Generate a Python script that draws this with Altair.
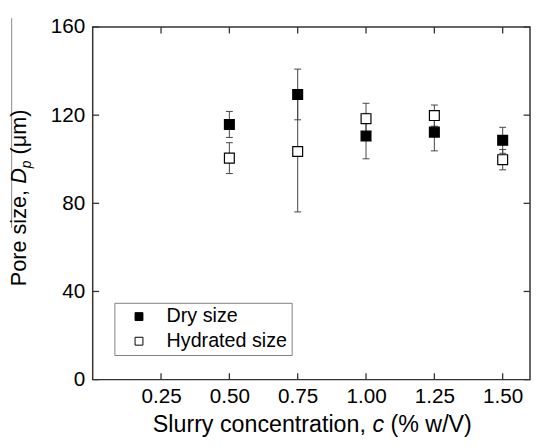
import altair as alt
import pandas as pd

# ---- data ----
conc = [0.50, 0.75, 1.00, 1.25, 1.50]
dry_size = [115.8, 129.4, 110.5, 112.3, 108.6]
dry_err = [5.9, 11.5, 10.3, 8.5, 5.9]
hyd_size = [100.5, 103.5, 118.4, 119.8, 99.8]
hyd_err = [7.0, 27.4, 7.0, 4.8, 4.6]
series_names = ["Dry size", "Hydrated size"]
x_ticks = [0.25, 0.50, 0.75, 1.00, 1.25, 1.50]
y_ticks = [0, 40, 80, 120, 160]
x_domain = [0, 1.6]
y_domain = [0, 160]
x_title = ["Slurry concentration, ", "c", " (% w/V)"]
y_title = ["Pore size, ", "D", "p", " (\u03bcm)"]

# ---- style ----
W, H = 444, 358
FONT = "Liberation Sans"
FRAME = "#333333"
BAR = "#444444"
TICK_LEN = 6.5

# Arial / Liberation Sans advance widths (em) for title layout
ADV = {'S': .667, 'l': .222, 'u': .556, 'r': .333, 'y': .5, ' ': .278, 'c': .5,
       'o': .556, 'n': .556, 'e': .556, 't': .278, 'a': .556, 'i': .222, ',': .278,
       '(': .333, '%': .889, 'w': .722, '/': .278, 'V': .667, ')': .333, 'P': .667,
       's': .5, 'z': .5, 'D': .722, 'p': .556, '\u03bc': .576, 'm': .833}


def tw(s, size):
    return sum(ADV.get(ch, .556) for ch in s) * size


def lead(s, size):
    return tw(" " * (len(s) - len(s.lstrip(" "))), size)


rows = []
for c, v, e in zip(conc, dry_size, dry_err):
    rows.append({"conc": c, "size": v, "lo": v - e, "hi": v + e, "series": series_names[0]})
for c, v, e in zip(conc, hyd_size, hyd_err):
    rows.append({"conc": c, "size": v, "lo": v - e, "hi": v + e, "series": series_names[1]})
df = pd.DataFrame(rows)
caps = pd.DataFrame(
    [{"conc": r["conc"], "cap": r["lo"]} for r in rows] + [{"conc": r["conc"], "cap": r["hi"]} for r in rows]
)
df_xt = pd.DataFrame({"v": x_ticks})
df_yt = pd.DataFrame({"v": y_ticks})
one = pd.DataFrame({"a": [0]})

xs = alt.Scale(domain=x_domain, nice=False, zero=False)
ys = alt.Scale(domain=y_domain, nice=False, zero=False)


def X(field):
    return alt.X(field, type="quantitative", scale=xs,
                 axis=alt.Axis(values=x_ticks, format=".2f", title=None, labelPadding=6))


def Y(field):
    return alt.Y(field, type="quantitative", scale=ys,
                 axis=alt.Axis(values=y_ticks, format="d", title=None, labelPadding=8))


bars = alt.Chart(df).mark_rule(color=BAR, strokeWidth=1).encode(
    x=X("conc"), y=Y("lo"), y2="hi")
cap_marks = alt.Chart(caps).mark_tick(orient="horizontal", size=7, thickness=1, color=BAR, opacity=1).encode(
    x=X("conc"), y=Y("cap"))

points = alt.Chart(df).mark_square(size=100, filled=True, stroke="black", strokeWidth=1.2, opacity=1).encode(
    x=X("conc"), y=Y("size"),
    fill=alt.Fill("series:N", scale=alt.Scale(domain=series_names, range=["black", "white"]),
                  legend=alt.Legend(orient="none", legendX=22, legendY=280, title=None,
                                    strokeColor="#808080", fillColor="white", padding=4,
                                    labelFontSize=20, labelFont=FONT, labelColor="black",
                                    symbolType="square", symbolSize=64, symbolStrokeColor="black",
                                    symbolStrokeWidth=1, symbolOffset=11, labelOffset=18,
                                    rowPadding=5, labelLimit=300)))

# inward ticks on all four sides
t_left = alt.Chart(df_yt).mark_rule(color=FRAME, strokeWidth=1.3).encode(
    y=Y("v"), x=alt.value(0), x2=alt.value(TICK_LEN))
t_right = alt.Chart(df_yt).mark_rule(color=FRAME, strokeWidth=1.3).encode(
    y=Y("v"), x=alt.value(W), x2=alt.value(W - TICK_LEN))
t_bottom = alt.Chart(df_xt).mark_rule(color=FRAME, strokeWidth=1.3).encode(
    x=X("v"), y=alt.value(H), y2=alt.value(H - TICK_LEN))
t_top = alt.Chart(df_xt).mark_rule(color=FRAME, strokeWidth=1.3).encode(
    x=X("v"), y=alt.value(0), y2=alt.value(TICK_LEN))

# ---- titles built from pieces (italic symbols) ----
title_layers = []
XF = 23.6
x_base = 411
x_total = sum(tw(p, XF) for p in x_title)
xpos = 223 - x_total / 2
for piece, style in zip(x_title, ["normal", "italic", "normal"]):
    title_layers.append(alt.Chart(one).mark_text(
        text=piece.strip(), font=FONT, fontSize=XF, fontStyle=style, align="left",
        baseline="alphabetic", color="black").encode(
        x=alt.value(xpos + lead(piece, XF)), y=alt.value(x_base)))
    xpos += tw(piece, XF)

YF = 22
SUB = 14
y_base = -67.5
sizes = [YF, YF, SUB, YF]
y_total = sum(tw(p, s) for p, s in zip(y_title, sizes))
ypos = 173.5 + y_total / 2
for piece, style, size, shift in zip(y_title, ["normal", "italic", "italic", "normal"],
                                     sizes, [0, 0, 5, 0]):
    title_layers.append(alt.Chart(one).mark_text(
        text=piece.strip(), font=FONT, fontSize=size, fontStyle=style, align="left",
        baseline="alphabetic", angle=270, color="black").encode(
        x=alt.value(y_base + shift), y=alt.value(ypos - lead(piece, size))))
    ypos -= tw(piece, size)

# faint scan line at the far left of the reference
scan = alt.Chart(one).mark_rule(color="#8a8a8a", strokeWidth=1).encode(
    x=alt.value(-82.3), y=alt.value(-9), y2=alt.value(204))

chart = alt.layer(
    bars, cap_marks, points, t_left, t_right, t_bottom, t_top, scan, *title_layers
).properties(
    width=W, height=H,
    padding={"left": 86, "top": 16, "right": 1, "bottom": 58},
    autosize=alt.AutoSizeParams(type="none"),
).configure_view(
    stroke=FRAME, strokeWidth=1.5
).configure_axis(
    labelFont=FONT, labelFontSize=21, labelColor="black", domain=False, ticks=False,
    tickSize=0, grid=False
)

chart.save("out.html", embed_options={"renderer": "svg", "actions": False})
